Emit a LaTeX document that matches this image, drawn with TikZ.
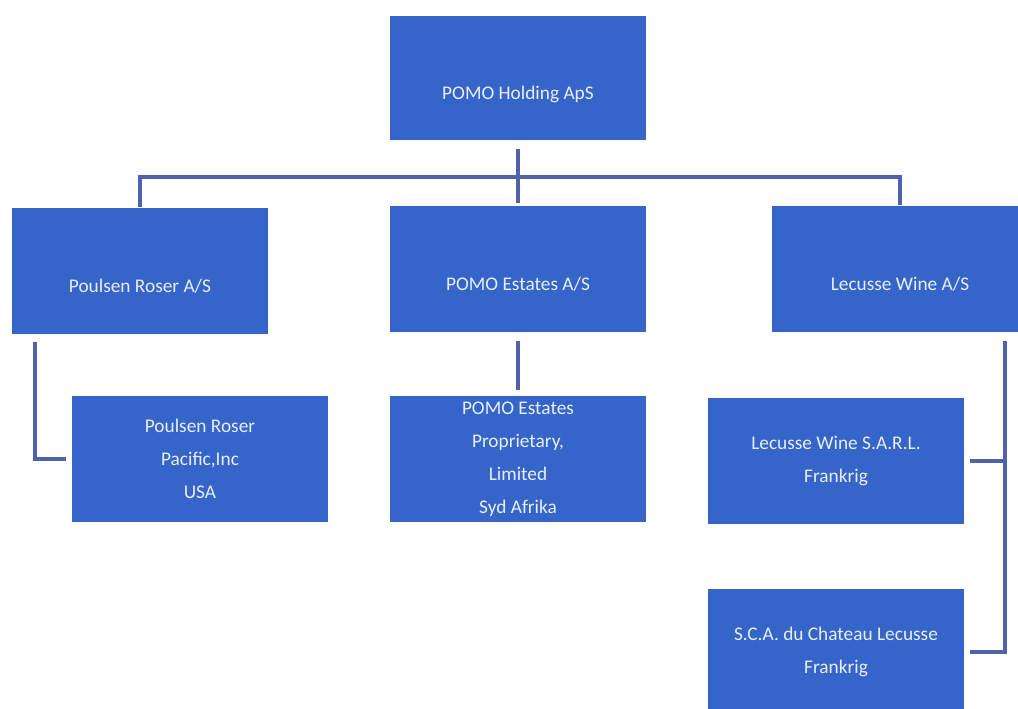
\documentclass[tikz,border=0pt]{standalone}
\usepackage{fontspec}
\setmainfont{Carlito}
\usetikzlibrary{calc}
\usepackage{xcolor}
\definecolor{boxblue}{RGB}{54,101,201}
\definecolor{linkblue}{RGB}{78,99,172}
\definecolor{boxtext}{RGB}{232,238,250}

\begin{document}
\begin{tikzpicture}[x=0.02cm, y=-0.02cm,
  company/.style={fill=boxblue, draw=none, text=boxtext, align=center, inner sep=0pt,
    minimum width=\boxwidth cm, minimum height=\boxheight cm,
    font=\fontsize{11}{18.7}\selectfont},
  lowtext/.style={text height=25pt, text depth=0pt},
  link/.style={draw=linkblue, line width=\linkwidth}]
\pgfmathsetmacro{\boxwidth}{5.12}
\pgfmathsetmacro{\boxheight}{2.54}
\pgfmathsetmacro{\linkwidth}{2.2pt}
\pgfmathsetmacro{\gap}{4.5pt}

\useasboundingbox (0,0) rectangle (1018,708);

\node[company, lowtext, minimum height=2.5cm] (holding) at (518,78) {POMO Holding ApS};
\node[company, lowtext] (poulsen) at (140,271) {Poulsen Roser A/S};
\node[company, lowtext] (estates) at (518,269) {POMO Estates A/S};
\node[company, lowtext] (lecusse) at (900,269) {Lecusse Wine A/S};
\node[company] (pacific) at (200,459) {Poulsen Roser\\Pacific,Inc\\USA};
\node[company] (proprietary) at (518,459) {POMO Estates\\Proprietary,\\Limited\\Syd Afrika};
\node[company] (sarl) at (836,461) {Lecusse Wine S.A.R.L.\\Frankrig};
\node[company] (chateau) at (836,652) {S.C.A. du Chateau Lecusse\\Frankrig};

\coordinate (bus) at (518,177);
\coordinate (left_drop) at (35,342);
\coordinate (right_drop) at (1005,341);

\draw [link, shorten <=\gap pt, shorten >=1pt] (holding.south) -- (estates.north);
\draw [link] (poulsen.north) |- (bus) -| (lecusse.north);
\draw [link, shorten >=3pt] (left_drop) |- (pacific.west);
\draw [link, shorten <=\gap pt, shorten >=3pt] (estates.south) -- (proprietary.north);
% right column: both french companies hang off one line
\draw [link, shorten >=3pt] (right_drop) |- (chateau.east);
\draw [link, shorten <=3pt] (sarl.east) -- (sarl.east -| right_drop);
\end{tikzpicture}
\end{document}
